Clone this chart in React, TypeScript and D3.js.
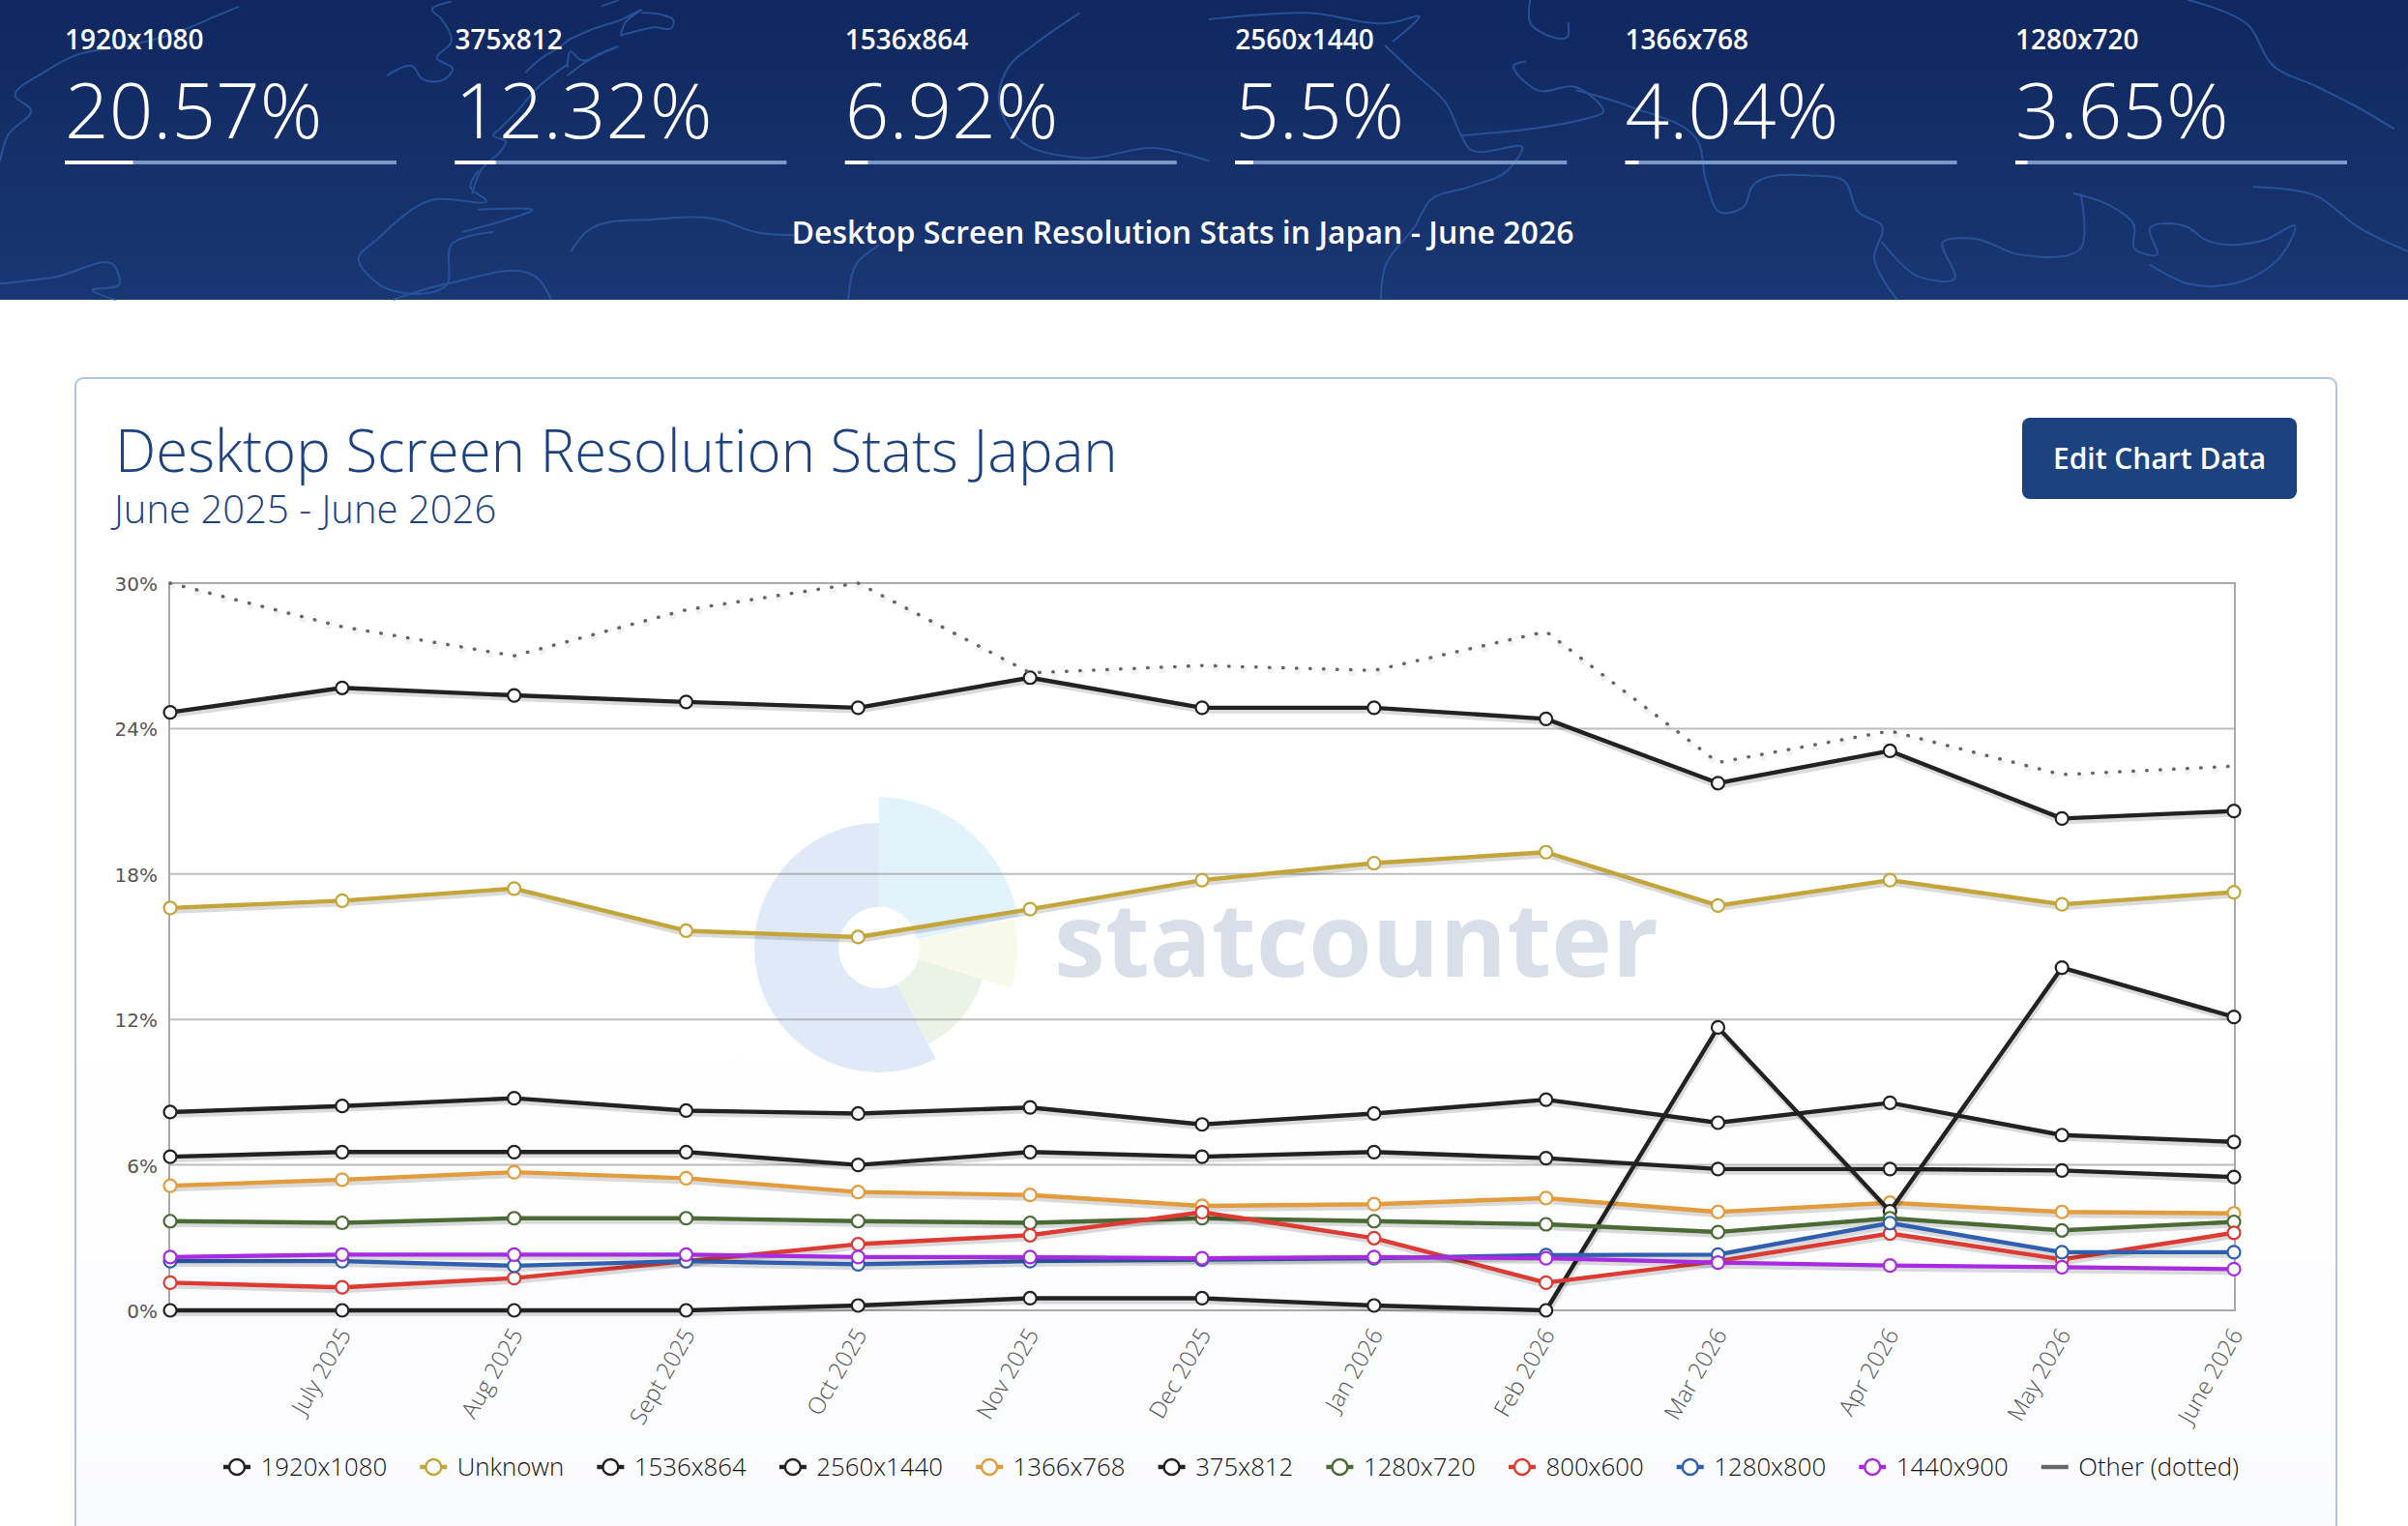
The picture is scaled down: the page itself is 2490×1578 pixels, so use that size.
import React, { useEffect, useRef } from 'react';
import * as d3 from 'd3';

const months = ['June 2025', 'July 2025', 'Aug 2025', 'Sept 2025', 'Oct 2025', 'Nov 2025', 'Dec 2025', 'Jan 2026', 'Feb 2026', 'Mar 2026', 'Apr 2026', 'May 2026', 'June 2026'];
const yTicks = [0, 6, 12, 18, 24, 30];

const res1920x1080 = [24.67, 25.68, 25.37, 25.1, 24.86, 26.1, 24.86, 24.86, 24.4, 21.75, 23.08, 20.29, 20.6];
const unknown = [16.6, 16.9, 17.4, 15.66, 15.4, 16.55, 17.75, 18.45, 18.9, 16.7, 17.75, 16.75, 17.25];
const res1536x864 = [8.18, 8.43, 8.75, 8.24, 8.12, 8.37, 7.67, 8.12, 8.69, 7.74, 8.56, 7.23, 6.95];
const res2560x1440 = [6.34, 6.53, 6.53, 6.53, 6.0, 6.53, 6.34, 6.53, 6.28, 5.83, 5.83, 5.77, 5.5];
const res1366x768 = [5.14, 5.39, 5.7, 5.45, 4.88, 4.76, 4.31, 4.38, 4.63, 4.06, 4.44, 4.06, 4.0];
const res375x812 = [0, 0, 0, 0, 0.2, 0.5, 0.5, 0.2, 0, 11.67, 4.09, 14.14, 12.1];
const res1280x720 = [3.68, 3.61, 3.8, 3.8, 3.68, 3.61, 3.8, 3.68, 3.55, 3.23, 3.8, 3.3, 3.65];
const res800x600 = [1.14, 0.95, 1.33, 2.03, 2.73, 3.1, 4.05, 2.98, 1.14, 2.03, 3.17, 2.1, 3.2];
const res1280x800 = [2.03, 2.03, 1.84, 2.03, 1.9, 2.03, 2.09, 2.15, 2.28, 2.3, 3.6, 2.4, 2.4];
const res1440x900 = [2.2, 2.3, 2.3, 2.3, 2.2, 2.2, 2.15, 2.2, 2.15, 1.97, 1.85, 1.78, 1.7];
const other = [30, 28.2, 27, 28.9, 30, 26.3, 26.6, 26.4, 28, 22.6, 23.9, 22.1, 22.45];

const seriesNames = ['1920x1080', 'Unknown', '1536x864', '2560x1440', '1366x768', '375x812', '1280x720', '800x600', '1280x800', '1440x900', 'Other (dotted)'];
const seriesValues = [res1920x1080, unknown, res1536x864, res2560x1440, res1366x768, res375x812, res1280x720, res800x600, res1280x800, res1440x900, other];
const seriesColors = ['#222222', '#c4a53a', '#222222', '#222222', '#e29c3e', '#222222', '#4a6b35', '#dc3a32', '#2f5fae', '#a72be0', '#666666'];

const topNames = ['1920x1080', '375x812', '1536x864', '2560x1440', '1366x768', '1280x720'];
const topValues = [20.57, 12.32, 6.92, 5.5, 4.04, 3.65];

// faint world map behind the header
const coastLeft: [number, number][][] = [
  [[0, 500], [10, 420], [40, 340], [20, 300], [60, 220], [100, 170], [170, 140], [230, 100], [280, 50], [310, 20]],
  [[1400, 40], [1340, 140], [1310, 200], [1295, 300], [1320, 430], [1400, 490], [1500, 460], [1568, 500]],
  [[620, 530], [610, 580], [630, 620], [560, 620], [490, 740], [465, 800], [490, 880], [580, 880], [585, 760], [640, 720]],
  [[510, 930], [580, 880], [700, 870], [715, 930]],
  [[740, 780], [760, 720], [850, 680], [930, 680], [980, 720], [1030, 730]],
  [[1100, 930], [1110, 820], [1140, 760]],
  [[0, 880], [70, 860], [150, 830], [155, 880], [120, 900], [150, 930]],
  [[620, 650], [690, 650], [600, 720]],
];
const coastTop: [number, number][][] = [
  [[0, 235], [80, 205], [110, 245], [180, 245], [205, 215], [155, 180], [200, 130], [170, 60], [140, 30], [200, 5]],
  [[725, 110], [740, 70], [790, 30], [730, 60], [640, 90], [560, 125]],
  [[725, 110], [780, 95], [830, 85], [885, 85], [890, 65], [850, 45], [790, 40]],
  [[430, 225], [480, 180], [530, 150], [570, 120]],
  [[560, 235], [620, 190], [700, 150], [715, 145], [680, 160], [600, 185], [570, 160], [560, 210]],
  [[265, 600], [290, 530], [360, 460], [370, 440], [330, 420], [350, 400], [400, 350], [470, 270], [560, 200]],
  [[665, 20], [720, 0]],
];
const coastRight: [number, number][][] = [
  [[230, 140], [270, 230], [310, 320], [330, 420], [340, 460], [410, 460], [390, 530], [340, 580], [290, 620], [270, 700], [230, 830], [225, 930]],
  [[330, 420], [420, 400], [490, 370], [515, 350], [480, 270], [430, 280], [400, 200], [415, 190]],
  [[480, 280], [550, 330], [640, 440], [650, 560], [670, 660], [700, 640], [710, 580], [790, 545], [830, 560], [850, 660], [880, 700], [870, 800], [900, 930]],
  [[880, 750], [930, 860], [975, 865], [960, 750], [1000, 740], [1060, 790], [1140, 770], [1140, 600]],
  [[1130, 600], [1180, 640], [1210, 700], [1210, 770], [1240, 790], [1230, 710], [1280, 705], [1300, 740], [1380, 745], [1420, 700], [1400, 800], [1380, 840], [1340, 880], [1280, 880], [1230, 820]],
  [[1365, 580], [1450, 610], [1500, 700], [1568, 780]],
  [[1280, 0], [1360, 80], [1390, 200], [1450, 270], [1500, 330], [1550, 400]],
  [[420, 0], [420, 70], [470, 110], [470, 70]],
  [[0, 60], [130, 40], [240, 70], [275, 50], [240, 130]],
];

const FONT = '"Open Sans", sans-serif';

const App: React.FC = () => {
  const svgRef = useRef<SVGSVGElement>(null);

  useEffect(() => {
    if (!svgRef.current) return;
    const svg = d3.select(svgRef.current);
    svg.selectAll('*').remove();

    const defs = svg.append('defs');
    const headGrad = defs.append('linearGradient').attr('id', 'headGrad').attr('x1', 0).attr('x2', 0).attr('y1', 0).attr('y2', 1);
    headGrad.append('stop').attr('offset', '0%').attr('stop-color', '#10275f');
    headGrad.append('stop').attr('offset', '100%').attr('stop-color', '#193773');
    const cardGrad = defs.append('linearGradient').attr('id', 'cardGrad').attr('x1', 0).attr('x2', 0).attr('y1', 0).attr('y2', 1);
    cardGrad.append('stop').attr('offset', '0%').attr('stop-color', '#ffffff');
    cardGrad.append('stop').attr('offset', '55%').attr('stop-color', '#ffffff');
    cardGrad.append('stop').attr('offset', '100%').attr('stop-color', '#fafbfe');

    // header band
    svg.append('rect').attr('width', 2490).attr('height', 310).attr('fill', 'url(#headGrad)');
    const coast = d3.line<[number, number]>().x(d => d[0]).y(d => d[1]).curve(d3.curveCatmullRom.alpha(1));
    const mapG = svg.append('g').attr('fill', 'none').attr('stroke', '#2b57a0').attr('stroke-width', 2).attr('opacity', 0.85);
    coastLeft.forEach(c => mapG.append('path').attr('d', coast(c.map(p => [p[0] / 1.254, p[1] / 3] as [number, number]))));
    coastTop.forEach(c => mapG.append('path').attr('d', coast(c.map(p => [400 + p[0] / 3, p[1] / 3] as [number, number]))));
    coastRight.forEach(c => mapG.append('path').attr('d', coast(c.map(p => [1250 + p[0] / 1.2645, p[1] / 3] as [number, number]))));

    const barW = d3.scaleLinear().domain([0, 100]).range([0, 343]);
    const cellX = d3.scaleLinear().domain([0, 5]).range([67, 2084]);
    topNames.forEach((name, i) => {
      const g = svg.append('g').attr('transform', `translate(${cellX(i)},0)`).style('font-family', FONT).attr('fill', '#fff');
      g.append('text').attr('y', 51).attr('font-size', 28).attr('font-weight', 600).text(name);
      g.append('text').attr('y', 143).attr('font-size', 80).attr('font-weight', 300).text(`${topValues[i]}%`);
      g.append('rect').attr('y', 166).attr('width', 343).attr('height', 4).attr('fill', '#7b98c9');
      g.append('rect').attr('y', 166).attr('width', barW(topValues[i])).attr('height', 4).attr('fill', '#fff');
    });
    svg.append('text').attr('x', 1223).attr('y', 252).attr('text-anchor', 'middle')
      .style('font-family', FONT).attr('font-size', 32).attr('font-weight', 600).attr('fill', '#fff')
      .text('Desktop Screen Resolution Stats in Japan - June 2026');

    // card
    svg.append('rect').attr('x', 78).attr('y', 391).attr('width', 2338).attr('height', 1240).attr('rx', 8)
      .attr('fill', 'url(#cardGrad)').attr('stroke', '#b2c5e0').attr('stroke-width', 2);
    svg.append('text').attr('x', 119).attr('y', 488).style('font-family', FONT).attr('font-size', 59.9).attr('font-weight', 300)
      .attr('fill', '#1c4380').text('Desktop Screen Resolution Stats Japan');
    svg.append('text').attr('x', 118).attr('y', 541).style('font-family', FONT).attr('font-size', 40).attr('font-weight', 300)
      .attr('fill', '#1c4380').text('June 2025 - June 2026');
    svg.append('rect').attr('x', 2091).attr('y', 432).attr('width', 284).attr('height', 84).attr('rx', 8).attr('fill', '#1c4380');
    svg.append('text').attr('x', 2233).attr('y', 485).attr('text-anchor', 'middle').style('font-family', FONT)
      .attr('font-size', 30).attr('font-weight', 600).attr('fill', '#fff').text('Edit Chart Data');

    // watermark logo
    const logo = svg.append('g').attr('transform', 'translate(909,980)');
    const deg = (a: number) => (a * Math.PI) / 180;
    const arc = d3.arc<any>().innerRadius(42);
    logo.append('path').attr('d', arc({ startAngle: deg(153), endAngle: deg(360), outerRadius: 129 })).attr('fill', '#dfe9f8');
    logo.append('path').attr('transform', 'scale(1,1.06)').attr('d', d3.arc<any>().innerRadius(40)({ startAngle: 0, endAngle: deg(78), outerRadius: 147 })).attr('fill', '#e2f3fc');
    logo.append('path').attr('d', arc({ startAngle: deg(78), endAngle: deg(107), outerRadius: 143 })).attr('fill', '#f7faea');
    logo.append('path').attr('d', arc({ startAngle: deg(107), endAngle: deg(153), outerRadius: 112 })).attr('fill', '#ebf3e6');
    svg.append('text').attr('x', 1090).attr('y', 1010).style('font-family', FONT).attr('font-size', 106).attr('font-weight', 700)
      .attr('fill', '#d9dfe9').text('statcounter');

    // plot
    const x = d3.scalePoint<string>().domain(months).range([176, 2310]);
    const y = d3.scaleLinear().domain([0, 30]).range([1355, 603]);

    const grid = svg.append('g');
    yTicks.filter(t => t > 0 && t < 30).forEach(t => {
      grid.append('line').attr('x1', 175).attr('x2', 2311).attr('y1', y(t)).attr('y2', y(t)).attr('stroke', '#888').attr('stroke-opacity', 0.55).attr('stroke-width', 2);
    });
    svg.append('rect').attr('x', 175).attr('y', 603).attr('width', 2136).attr('height', 752)
      .attr('fill', 'none').attr('stroke', '#aaaaaa').attr('stroke-width', 2);

    yTicks.forEach(t => {
      svg.append('text').attr('x', 163).attr('y', y(t) + 8).attr('text-anchor', 'end').style('font-family', '"DejaVu Sans", sans-serif')
        .attr('font-size', 20).attr('fill', '#555').text(`${t}%`);
    });
    months.slice(1).forEach(m => {
      const px = x(m) as number;
      svg.append('text').attr('transform', `translate(${px + 10},1380) rotate(-60)`).attr('text-anchor', 'end')
        .style('font-family', FONT).attr('font-size', 24).attr('font-weight', 300).attr('fill', '#555').text(m);
    });

    const line = d3.line<number>().x((_, i) => x(months[i]) as number).y(d => y(d));
    seriesNames.forEach((name, s) => {
      const values = seriesValues[s];
      const dotted = name.startsWith('Other');
      const g = svg.append('g');
      g.append('path').attr('d', line(values)).attr('fill', 'none').attr('transform', 'translate(1,3)')
        .attr('stroke', '#000').attr('stroke-opacity', dotted ? 0.05 : 0.14).attr('stroke-width', dotted ? 7 : 6)
        .attr('stroke-linecap', 'round').attr('stroke-dasharray', dotted ? '0.5 27.5' : null);
      g.append('path').attr('d', line(values)).attr('fill', 'none').attr('stroke', seriesColors[s])
        .attr('stroke-width', dotted ? 3.5 : 4.4).attr('stroke-linejoin', 'round')
        .attr('stroke-linecap', dotted ? 'round' : 'butt').attr('stroke-dasharray', dotted ? '0.5 13.5' : null);
      if (!dotted) {
        g.selectAll('circle').data(values).enter().append('circle')
          .attr('cx', (_, i) => x(months[i]) as number).attr('cy', d => y(d)).attr('r', 6.5)
          .attr('fill', '#fff').attr('stroke', seriesColors[s]).attr('stroke-width', 2.2);
      }
    });

    // legend, laid out from the measured label widths
    const legend = svg.append('g').style('font-family', FONT).attr('font-size', 25.8).attr('font-weight', 300);
    let cursor = 231;
    seriesNames.forEach((name, s) => {
      const g = legend.append('g').attr('transform', `translate(${cursor},1517)`);
      const dotted = name.startsWith('Other');
      g.append('line').attr('x1', 0).attr('x2', 28).attr('stroke', seriesColors[s]).attr('stroke-width', 4.4);
      if (!dotted) g.append('circle').attr('cx', 14).attr('r', 8).attr('fill', '#fff').attr('stroke', seriesColors[s]).attr('stroke-width', 2.4);
      const label = g.append('text').attr('x', 38.5).attr('y', 9).attr('fill', '#111').text(name);
      const w = (label.node() as SVGTextElement).getComputedTextLength();
      cursor += 38.5 + w + 34.1;
    });
  }, []);

  return (
    <svg ref={svgRef} width={2490} height={1578} style={{ position: 'absolute', left: 0, top: 0, background: '#fff' }} />
  );
};

export default App;
